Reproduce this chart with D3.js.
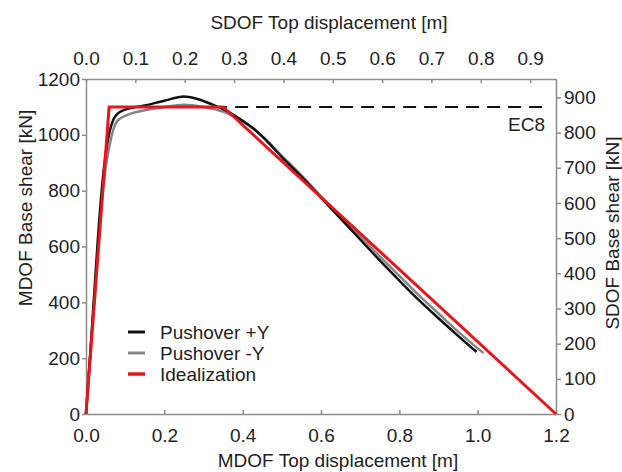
<!DOCTYPE html>
<html>
<head>
<meta charset="utf-8">
<script src="https://cdn.jsdelivr.net/npm/d3@7"></script>
<style>
  body { margin: 0; background: #fff; }
  svg { display: block; font-family: "Liberation Sans", Arial, sans-serif; }
  .axis path, .axis line { stroke: #8c8c8c; stroke-width: 1.5; }
  .axis text { fill: #222; font-size: 19px; }
  .title { fill: #222; font-size: 19px; }
</style>
</head>
<body>
<div id="chart"></div>
<script>
// Pushover +Y (MDOF displacement [m], base shear [kN])
const plusDisp = [0, 0.01, 0.02, 0.03, 0.04, 0.05, 0.06, 0.07, 0.08, 0.1, 0.15, 0.2, 0.25, 0.28, 0.32, 0.36, 0.4, 0.43, 0.46, 0.5, 0.55, 0.6, 0.65, 0.7, 0.75, 0.8, 0.85, 0.9, 0.95, 0.997];
const plusShear = [0, 200, 410, 620, 800, 930, 1010, 1055, 1075, 1090, 1105, 1122, 1137, 1130, 1110, 1085, 1050, 1020, 980, 920, 850, 775, 700, 625, 550, 478, 408, 343, 280, 222];

// Pushover -Y
const minusDisp = [0, 0.01, 0.02, 0.03, 0.04, 0.05, 0.06, 0.07, 0.08, 0.1, 0.15, 0.2, 0.25, 0.3, 0.35, 0.4, 0.45, 0.5, 0.55, 0.6, 0.65, 0.7, 0.75, 0.8, 0.85, 0.9, 0.95, 1.0, 1.015];
const minusShear = [0, 190, 390, 590, 760, 880, 960, 1020, 1050, 1068, 1088, 1100, 1108, 1100, 1083, 1048, 995, 925, 855, 780, 705, 635, 565, 495, 425, 360, 295, 235, 218];

// Idealization (bilinear with softening)
const idealDisp = [0, 0.059, 0.35, 1.2];
const idealShear = [0, 1100, 1100, 0];

// EC8 level
const ec8Disp = [0.059, 1.185];
const ec8Shear = [1100, 1100];

// transformation factor MDOF -> SDOF
const gamma = 1.26;

const xTicks = [0, 0.2, 0.4, 0.6, 0.8, 1.0, 1.2];
const xTopTicks = [0, 0.1, 0.2, 0.3, 0.4, 0.5, 0.6, 0.7, 0.8, 0.9];
const yTicks = [0, 200, 400, 600, 800, 1000, 1200];
const yRightTicks = [0, 100, 200, 300, 400, 500, 600, 700, 800, 900];

const seriesNames = ['Pushover +Y', 'Pushover -Y', 'Idealization'];
const seriesColors = ['#111111', '#858585', '#e8161b'];

let width = 622;
let height = 472;
let margin = { top: 79, right: 66, bottom: 58, left: 86 };
let innerW = width - margin.left - margin.right;
let innerH = height - margin.top - margin.bottom;

let svg = d3.select('#chart').append('svg')
    .attr('width', width)
    .attr('height', height);

let x = d3.scaleLinear().domain([0, 1.2]).range([margin.left, margin.left + innerW]);
let xTop = d3.scaleLinear().domain([0, 1.2 / gamma]).range([margin.left, margin.left + innerW]);
let y = d3.scaleLinear().domain([0, 1200]).range([margin.top + innerH, margin.top]);
let yRight = d3.scaleLinear().domain([0, 1200 / gamma]).range([margin.top + innerH, margin.top]);

// Axes
svg.append('g')
    .attr('class', 'axis')
    .attr('transform', 'translate(0,' + (margin.top + innerH) + ')')
    .call(d3.axisBottom(x).tickValues(xTicks).tickFormat(d3.format('.1f'))
        .tickSizeInner(-4).tickSizeOuter(0).tickPadding(15));

svg.append('g')
    .attr('class', 'axis')
    .attr('transform', 'translate(0,' + margin.top + ')')
    .call(d3.axisTop(xTop).tickValues(xTopTicks).tickFormat(d3.format('.1f'))
        .tickSizeInner(-4).tickSizeOuter(0).tickPadding(14));

svg.append('g')
    .attr('class', 'axis')
    .attr('transform', 'translate(' + margin.left + ',0)')
    .call(d3.axisLeft(y).tickValues(yTicks).tickFormat(d3.format('d'))
        .tickSizeInner(4).tickSizeOuter(0).tickPadding(2));

svg.append('g')
    .attr('class', 'axis')
    .attr('transform', 'translate(' + (margin.left + innerW) + ',0)')
    .call(d3.axisRight(yRight).tickValues(yRightTicks).tickFormat(d3.format('d'))
        .tickSizeInner(5).tickSizeOuter(0).tickPadding(3));

// Titles
svg.append('text').attr('class', 'title')
    .attr('x', 329).attr('y', 29)
    .attr('text-anchor', 'middle')
    .text('SDOF Top displacement [m]');
svg.append('text').attr('class', 'title')
    .attr('x', 338).attr('y', 467)
    .attr('text-anchor', 'middle')
    .text('MDOF Top displacement [m]');
svg.append('text').attr('class', 'title')
    .attr('transform', 'translate(32,208) rotate(-90)')
    .attr('text-anchor', 'middle')
    .text('MDOF Base shear [kN]');
svg.append('text').attr('class', 'title')
    .attr('transform', 'translate(619,233) rotate(-90)')
    .attr('text-anchor', 'middle')
    .text('SDOF Base shear [kN]');

let line = d3.line()
    .x(function (d) { return x(d[0]); })
    .y(function (d) { return y(d[1]); });
let smooth = d3.line()
    .curve(d3.curveMonotoneX)
    .x(function (d) { return x(d[0]); })
    .y(function (d) { return y(d[1]); });

// EC8 dashed level
svg.append('path')
    .attr('d', line(d3.zip(ec8Disp, ec8Shear)))
    .attr('fill', 'none')
    .attr('stroke', '#111')
    .attr('stroke-width', 2)
    .attr('stroke-dasharray', '13,8');
svg.append('text').attr('class', 'title')
    .attr('x', x(1.2) - 11).attr('y', y(1100) + 24)
    .attr('text-anchor', 'end')
    .text('EC8');

// Curves
svg.append('path')
    .attr('d', smooth(d3.zip(minusDisp, minusShear)))
    .attr('fill', 'none')
    .attr('stroke', seriesColors[1])
    .attr('stroke-width', 2.5)
    .attr('stroke-linejoin', 'round');
svg.append('path')
    .attr('d', smooth(d3.zip(plusDisp, plusShear)))
    .attr('fill', 'none')
    .attr('stroke', seriesColors[0])
    .attr('stroke-width', 2.5)
    .attr('stroke-linejoin', 'round');
svg.append('path')
    .attr('d', line(d3.zip(idealDisp, idealShear)))
    .attr('fill', 'none')
    .attr('stroke', seriesColors[2])
    .attr('stroke-width', 3)
    .attr('stroke-linejoin', 'miter');

// Legend
let legend = svg.append('g').attr('transform', 'translate(128,332)');
let item = legend.selectAll('g')
    .data(seriesNames)
    .enter()
    .append('g')
    .attr('transform', function (d, i) { return 'translate(0,' + (i * 21) + ')'; });
item.append('line')
    .attr('x1', 0).attr('x2', 17)
    .attr('stroke', function (d, i) { return seriesColors[i]; })
    .attr('stroke-width', function (d, i) { return i === 2 ? 3.5 : 3; });
item.append('text')
    .attr('class', 'title')
    .attr('x', 32)
    .attr('dy', '0.35em')
    .text(function (d) { return d; });
</script>
</body>
</html>
